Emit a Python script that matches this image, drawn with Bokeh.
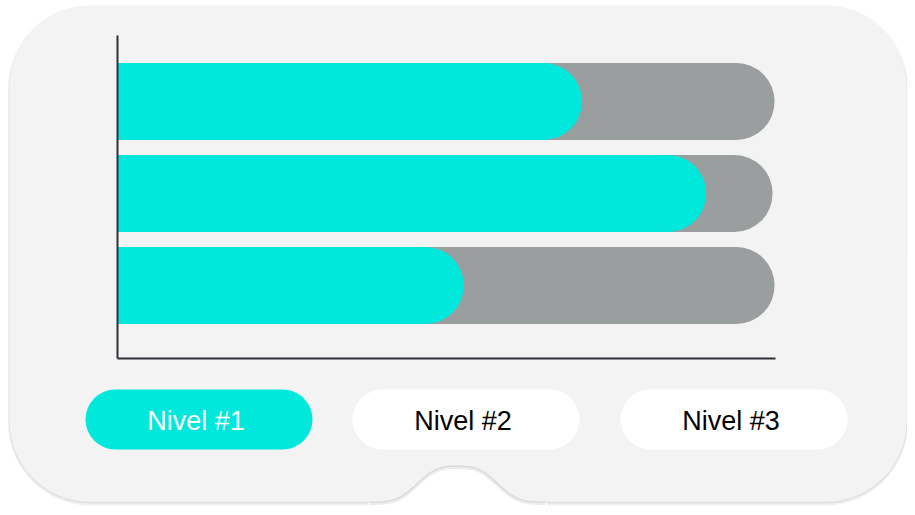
import numpy as np
from bokeh.plotting import figure
from bokeh.models import Range1d, ColumnDataSource
from bokeh.core.properties import value
from bokeh.embed import file_html
from bokeh.resources import INLINE

# ---------------- data ----------------
rows = ["Fila 1", "Fila 2", "Fila 3"]          # top to bottom
row_pos = [2, 1, 0]
progress = [70.7, 89.6, 52.7]                  # cyan bars (%)
total = [100, 99.7, 100]                       # grey track (%)
levels = ["Nivel #1", "Nivel #2", "Nivel #3"]
active_level = 0

# ---------------- colours ----------------
CYAN = "#00E8DC"
GREY = "#9A9E9E"
CARD = "#F3F3F3"
AXIS = "#2F2F3A"

W, H = 907, 507
PX_PER_UNIT = 6.57      # x: pixels per percent
ORIGIN_X = 117          # canvas px of value 0
PX_PER_ROW = 92
ORIGIN_Y = 285          # canvas px (from top) of row position 0

x_range = Range1d(-ORIGIN_X / PX_PER_UNIT, (W - ORIGIN_X) / PX_PER_UNIT)
y_range = Range1d((ORIGIN_Y - H) / PX_PER_ROW, ORIGIN_Y / PX_PER_ROW)

p = figure(width=W, height=H, x_range=x_range, y_range=y_range,
           x_axis_type=None, y_axis_type=None, output_backend="svg",
           toolbar_location=None, min_border=0)
p.grid.visible = False
p.outline_line_color = None
p.background_fill_color = "white"
p.border_fill_color = "white"

# pixel coordinate system for decorations (y downwards)
p.extra_x_ranges = {"px": Range1d(0, W)}
p.extra_y_ranges = {"px": Range1d(H, 0)}
PX = dict(x_range_name="px", y_range_name="px")

# card shadow + card
CL, CR, CT, CB = 9, 906, 5, 501
p.quad(left=[CL - 1.5], right=[CR + 1.5], top=[CT + 1], bottom=[CB + 4],
       fill_color="#E6E6E6", fill_alpha=0.6, line_color=None, border_radius=83, **PX)
p.quad(left=[CL - 0.7], right=[CR + 0.7], top=[CT + 0.5], bottom=[CB + 2],
       fill_color="#DCDCDC", fill_alpha=0.7, line_color=None, border_radius=81, **PX)
p.quad(left=[CL], right=[CR], top=[CT], bottom=[CB], fill_color=CARD,
       line_color=None, border_radius=80, **PX)

# bottom notch (smooth bump)
ncx, nhalf, depth, sig = 457, 88, 36, 46
d = np.linspace(-nhalf, nhalf, 160)
h = np.exp(-(np.abs(d) / sig) ** 3)
hmin = h.min()
h = (h - hmin) / (1 - hmin)
cx = ncx + d
cy = CB - depth * h
p.patch(x=list(cx) + [cx[-1] + 4, cx[0] - 4], y=list(cy) + [H, H],
        fill_color="white", line_color=None, **PX)
p.line(x=cx, y=cy + 2.0, line_color="#EBEBEB", line_width=3, **PX)
p.line(x=cx, y=cy + 0.6, line_color="#D6D6D6", line_width=1.2, **PX)

# bars
bar_h = 77 / PX_PER_ROW
src = ColumnDataSource(dict(y=row_pos, total=total, progress=progress, row=rows))
p.hbar(y="y", left=0, right="total", height=bar_h, source=src,
       fill_color=GREY, line_color=None, border_radius=(0, 38, 38, 0))
p.hbar(y="y", left=0, right="progress", height=bar_h, source=src,
       fill_color=CYAN, line_color=None, border_radius=(0, 38, 38, 0))

# axis lines
axis_bottom = (ORIGIN_Y - 358) / PX_PER_ROW
axis_top = (ORIGIN_Y - 35) / PX_PER_ROW
x_end = max(total) + 0.15
p.segment(x0=[0, 0], y0=[axis_bottom, axis_bottom], x1=[0, x_end],
          y1=[axis_top, axis_bottom], line_color=AXIS, line_width=2)

# level buttons
btn_left = [85, 352, 620]
btn_w, btn_top, btn_bot = 227, 389, 449
btn_src = ColumnDataSource(dict(
    left=btn_left,
    right=[b + btn_w for b in btn_left],
    xc=[b + btn_w / 2 - 3 for b in btn_left],
    yc=[(btn_top + btn_bot) / 2 + 1] * 3,
    fill=[CYAN if i == active_level else "white" for i in range(len(levels))],
    tcol=["white" if i == active_level else "black" for i in range(len(levels))],
    label=levels,
))
p.quad(left="left", right="right", top=btn_top, bottom=btn_bot, source=btn_src,
       fill_color="fill", line_color=None, border_radius=30, **PX)
p.text(x="xc", y="yc", text="label", source=btn_src, text_color="tcol",
       text_align="center", text_baseline="middle",
       text_font=value("Liberation Sans"), text_font_size="27px", **PX)

open("out.html", "w").write(file_html(p, INLINE))
